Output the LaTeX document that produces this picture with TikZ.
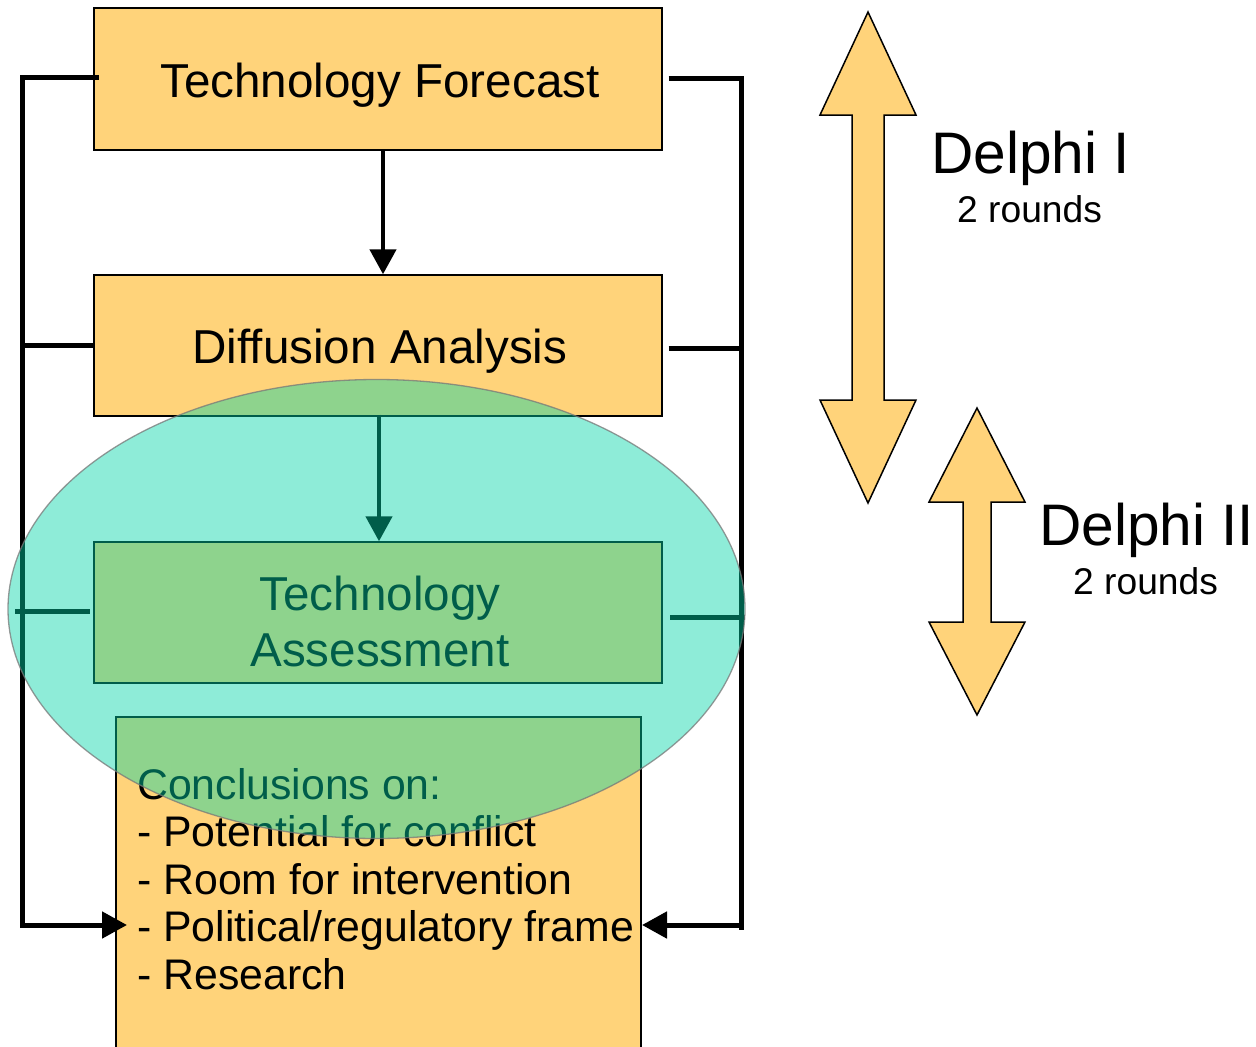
\documentclass[tikz,border=0pt]{standalone}
\usepackage{fontspec}
\setmainfont{Liberation Sans}
\usetikzlibrary{arrows.meta}
\definecolor{boxorange}{RGB}{255,211,122}
\definecolor{ellcyan}{RGB}{0,212,167}
\definecolor{ellrim}{RGB}{120,120,120}
\begin{document}
\begin{tikzpicture}[x=1pt,y=-1pt,
  box/.style={draw=black, line width=1.4pt, fill=boxorange, inner sep=0pt},
  conn/.style={draw=black, line width=5pt},
  tip/.style={-{Triangle[width=26pt,length=25pt]}},
  bigtxt/.style={inner sep=0pt, font=\fontsize{47.6}{55}\selectfont},
  listtxt/.style={inner sep=0pt, anchor=base west, font=\fontsize{42.8}{48}\selectfont},
  delphi/.style={inner sep=0pt, anchor=base west, font=\fontsize{58.6}{64}\selectfont},
  rounds/.style={inner sep=0pt, anchor=base west, font=\fontsize{37.2}{42}\selectfont},
  dblarrow/.style={draw=black, line width=1.5pt, fill=boxorange, line join=miter}
]
\useasboundingbox (0,0) rectangle (1256,1047);
\begin{scope}
\clip (0,0) rectangle (1256,1047);
% boxes
\node[box, minimum width=568pt, minimum height=142pt] (fc) at (378,79) {};
\node[box, minimum width=568pt, minimum height=141pt] (da) at (378,345.5) {};
\node[box, minimum width=568pt, minimum height=141pt] (ta) at (378,612.5) {};
\node[box, minimum width=525pt, minimum height=343pt] (cl) at (378.5,888.5) {};

% texts
\node[bigtxt, anchor=base] (tfc) at (380,97) {Technology Forecast};
\node[bigtxt, anchor=base] (tda) at (380,363) {Diffusion Analysis};
\node[bigtxt, anchor=base] (tta1) at (380,610) {Technology};
\node[bigtxt, anchor=base] (tta2) at (380,666) {Assessment};
\node[listtxt] (c1) at (137,799) {Conclusions on:};
\node[listtxt] (c2) at (137,846.5) {- Potential for conflict};
\node[listtxt] (c3) at (137,894) {- Room for intervention};
\node[listtxt] (c4) at (137,941.5) {- Political/regulatory frame};
\node[listtxt] (c5) at (137,989) {- Research};

% feedback frame coordinates
\coordinate (LT) at (22,77);
\coordinate (LD) at (22,345);
\coordinate (LB) at (22,925);
\coordinate (RT) at (741,78);
\coordinate (RD) at (741,348);
\coordinate (RB) at (741,925);
\coordinate (RE) at (741,930);
\coordinate (LA1) at (15,611);
\coordinate (LA2) at (90,611);
\coordinate (RA1) at (670,617);
\coordinate (RA2) at (745,617);
\coordinate (LTip) at (127,925);
\coordinate (RTip) at (642,925);

% connectors
\draw[conn, line cap=rect] ([xshift=3pt]fc.west |- LT) -- (LT) -- (LB);
\draw[conn] (da.west |- LD) -- (LD);
\draw[conn] (LA1) -- (LA2);
\draw[conn, tip] (LB) -- (LTip);
\draw[conn] ([xshift=6pt]fc.east |- RT) -- ([xshift=2.5pt]RT) (RT) -- (RE);
\draw[conn] ([xshift=6pt]da.east |- RD) -- (RD);
\draw[conn] (RA1) -- (RA2);
\draw[conn, tip] (RB) -- (RTip);
\draw[conn, line width=4.5pt, tip] ([xshift=5pt]fc.south) -- ([xshift=5pt]da.north);
\draw[conn, line width=4.5pt, tip] ([xshift=1pt,yshift=2pt]da.south) -- ([xshift=1pt]ta.north);

% translucent ellipse on top
\fill[ellcyan, fill opacity=0.443] (376.5,609) ellipse [x radius=368.5, y radius=229.5];
\draw[ellrim, draw opacity=0.75, line width=1.3pt] (376.5,609) ellipse [x radius=368.5, y radius=229.5];

% Delphi double arrows
\draw[dblarrow] (868,12) -- (916,115) -- (884,115) -- (884,400) -- (916,400) -- (868,503)
  -- (820,400) -- (852,400) -- (852,115) -- (820,115) -- cycle;
\draw[dblarrow] (977,408) -- (1025,502) -- (991,502) -- (991,622) -- (1025,622) -- (977,715)
  -- (929,622) -- (963,622) -- (963,502) -- (929,502) -- cycle;
\node[delphi] (d1) at (931,173) {Delphi I};
\node[rounds] (r1) at (957,222) {2 rounds};
\node[delphi] (d2) at (1039,545) {Delphi II};
\node[rounds] (r2) at (1073,594) {2 rounds};
\end{scope}
\end{tikzpicture}
\end{document}
